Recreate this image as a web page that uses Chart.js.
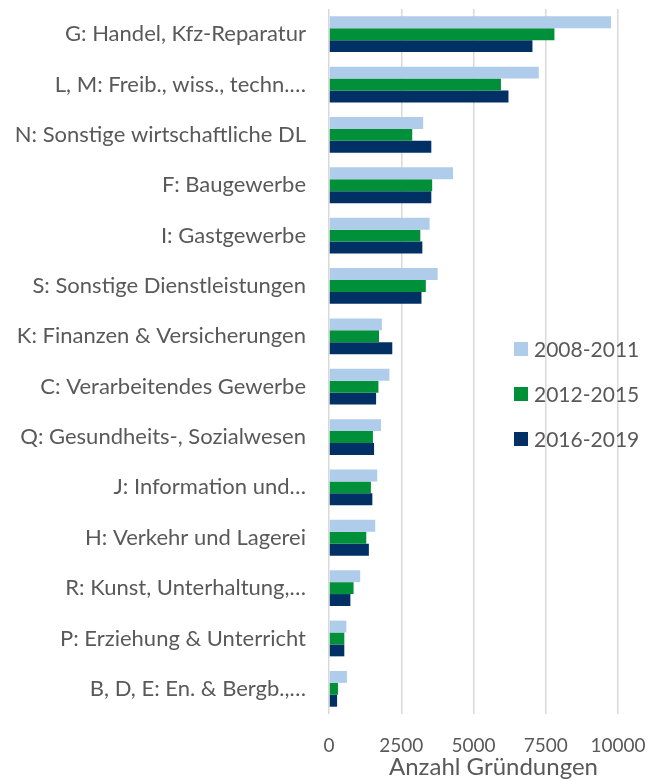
<!DOCTYPE html>
<html>
<head>
<meta charset="utf-8">
<script src="https://cdn.jsdelivr.net/npm/chart.js@4/dist/chart.umd.min.js"></script>
<style>
  html, body { margin: 0; padding: 0; background: #ffffff; }
  #wrap { width: 664px; height: 781px; position: relative; }
</style>
</head>
<body>
<div id="wrap"><canvas id="c" width="664" height="781"></canvas></div>
<script>
const categories = [
  "G: Handel, Kfz-Reparatur",
  "L, M: Freib., wiss., techn.…",
  "N: Sonstige wirtschaftliche DL",
  "F: Baugewerbe",
  "I: Gastgewerbe",
  "S: Sonstige Dienstleistungen",
  "K: Finanzen & Versicherungen",
  "C: Verarbeitendes Gewerbe",
  "Q: Gesundheits-, Sozialwesen",
  "J: Information und…",
  "H: Verkehr und Lagerei",
  "R: Kunst, Unterhaltung,…",
  "P: Erziehung & Unterricht",
  "B, D, E: En. & Bergb.,…"
];
const seriesNames = ["2008-2011", "2012-2015", "2016-2019"];
const values2008_2011 = [9760, 7260, 3260, 4290, 3480, 3760, 1830, 2090, 1800, 1670, 1600, 1080, 600, 620];
const values2012_2015 = [7800, 5950, 2880, 3570, 3160, 3350, 1730, 1710, 1520, 1450, 1290, 850, 530, 310];
const values2016_2019 = [7040, 6210, 3540, 3540, 3230, 3200, 2190, 1630, 1560, 1500, 1380, 740, 530, 280];
const xTicks = [0, 2500, 5000, 7500, 10000];
const xTitle = "Anzahl Gründungen";

const colors = ["#AFCDEA", "#00903A", "#003064"];
const textColor = "#595959";
const fontFamily = "Lato, 'Open Sans', sans-serif";

const overlayPlugin = {
  id: 'overlayLegendTitle',
  afterDraw(chart) {
    const ctx = chart.ctx;
    const x0 = 514, y0 = 349, gap = 45, sq = 14;
    ctx.save();
    ctx.font = "21px " + fontFamily;
    ctx.textBaseline = "middle";
    ctx.textAlign = "left";
    chart.data.datasets.forEach((ds, i) => {
      const y = y0 + i * gap;
      ctx.fillStyle = ds.backgroundColor;
      ctx.fillRect(x0, y - sq / 2, sq, sq);
      ctx.fillStyle = textColor;
      ctx.fillText(ds.label, x0 + 20, y + 1);
    });
    // axis title
    const xs = chart.scales.x;
    ctx.font = "24px " + fontFamily;
    ctx.textAlign = "center";
    ctx.fillStyle = textColor;
    ctx.fillText(xTitle, (xs.left + xs.right) / 2 + 20, 767);
    ctx.restore();
  }
};

new Chart(document.getElementById('c'), {
  type: 'bar',
  data: {
    labels: categories,
    datasets: [
      { label: seriesNames[0], data: values2008_2011, backgroundColor: colors[0] },
      { label: seriesNames[1], data: values2012_2015, backgroundColor: colors[1] },
      { label: seriesNames[2], data: values2016_2019, backgroundColor: colors[2] }
    ]
  },
  options: {
    indexAxis: 'y',
    responsive: false,
    animation: false,
    devicePixelRatio: 1,
    layout: { padding: { top: 9, right: 46, bottom: 0, left: 0 } },
    datasets: { bar: { categoryPercentage: 0.71, barPercentage: 1.0, borderWidth: 0 } },
    plugins: { legend: { display: false }, tooltip: { enabled: false } },
    scales: {
      x: {
        min: 0, max: 10000,
        afterBuildTicks(scale) { scale.ticks = xTicks.map(v => ({ value: v })); },
        afterFit(scale) { scale.height = 67; scale.paddingLeft = 0; scale.paddingRight = 0; },
        grid: { color: "#D9D9D9", lineWidth: 1.5, drawTicks: false },
        border: { display: false },
        ticks: { color: textColor, font: { family: fontFamily, size: 19 }, padding: 20, maxRotation: 0,
                 callback: (v) => String(v) },
        title: { display: false }
      },
      y: {
        afterFit(scale) { scale.width = 329; scale.paddingTop = 0; scale.paddingBottom = 0; },
        grid: { display: false, drawTicks: false },
        border: { display: false },
        ticks: { color: textColor, font: { family: fontFamily, size: 22 }, padding: 23, autoSkip: false }
      }
    }
  },
  plugins: [overlayPlugin]
});
</script>
</body>
</html>
